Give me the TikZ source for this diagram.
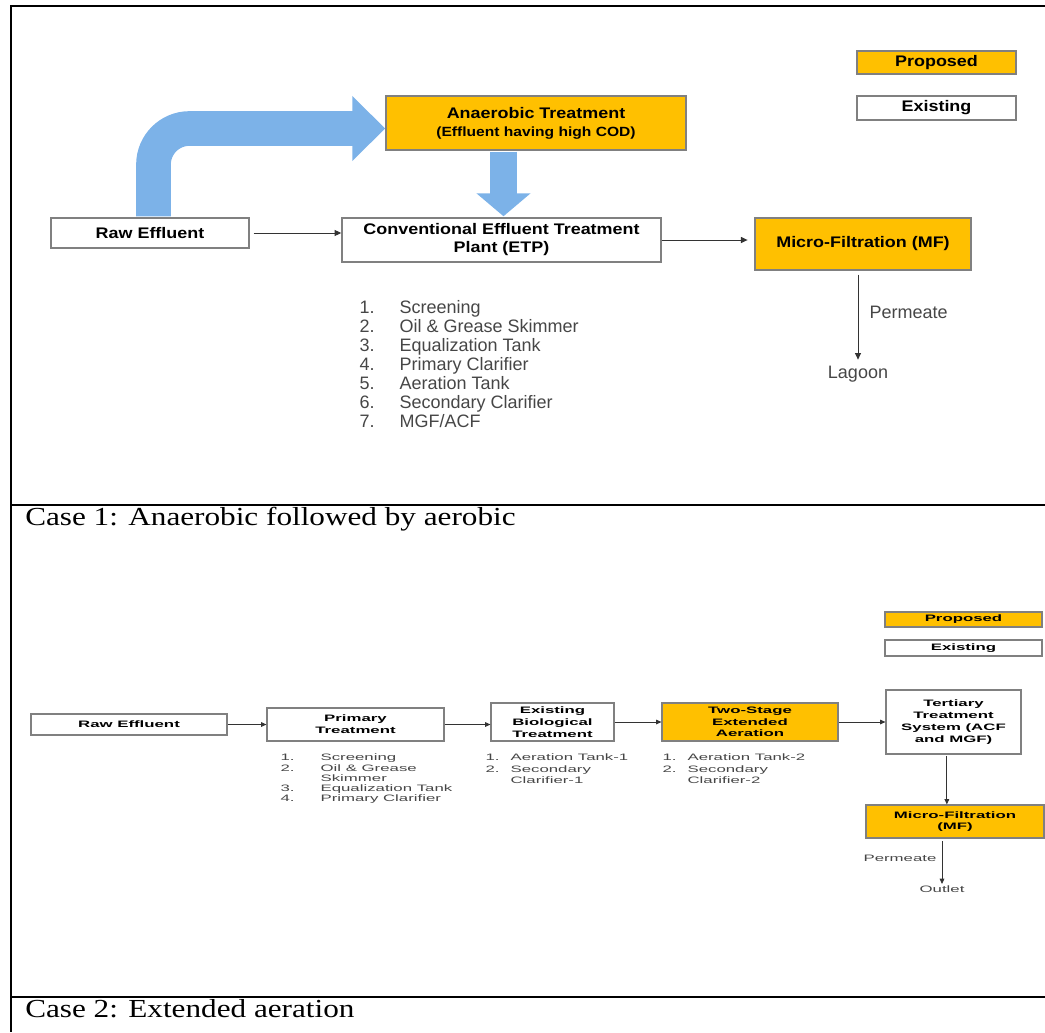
\documentclass[tikz,border=0pt]{standalone}
\usepackage{fontspec}
\setmainfont{Liberation Sans}
\newfontfamily\sansone[FakeStretch=1.17]{Liberation Sans}
\newfontfamily\sanstwo[FakeStretch=1.8]{Liberation Sans}
\newfontfamily\capserif[FakeStretch=1.2]{Liberation Serif}
\usetikzlibrary{arrows.meta,calc}

\definecolor{propgold}{RGB}{255,192,0}
\definecolor{flowblue}{RGB}{124,178,232}
\definecolor{boxgray}{RGB}{128,128,128}
\definecolor{listgray}{RGB}{70,70,70}

\tikzset{
  unit/.style={draw=boxgray, line width=1.1pt, fill=white, inner sep=0pt, align=center},
  existone/.style={unit, font=\sansone\bfseries\fontsize{11.5}{13.5}\selectfont},
  propone/.style={existone, fill=propgold},
  existtwo/.style={unit, line width=0.9pt, font=\sanstwo\bfseries\fontsize{7}{8.8}\selectfont},
  proptwo/.style={existtwo, fill=propgold},
  noteone/.style={inner sep=1pt, text=listgray, font=\fontsize{13.5}{14.25}\selectfont},
  notetwo/.style={inner sep=1pt, text=listgray, font=\sanstwo\fontsize{7}{8.6}\selectfont},
  lineone/.style={draw=black!80, line width=0.75pt, -{Triangle[length=5pt,width=4.5pt]}},
  linetwo/.style={draw=black!80, line width=0.6pt, -{Triangle[length=4pt,width=3.5pt]}},
  bigflow/.style={draw=flowblue, line width=26pt, -{Triangle[length=24.75pt,width=47.25pt]}},
  rule/.style={line width=1.5pt},
  caption/.style={anchor=base west, inner sep=0pt, font=\capserif\fontsize{19.5}{23}\selectfont},
}

\begin{document}
\begin{tikzpicture}[x=0.75pt,y=0.75pt,yscale=-1,xscale=1]
\useasboundingbox (0,0) rectangle (1045,1032);

% table frame
\draw[rule] (1045,6) -- (11,6) -- (11,1032);
\draw[rule] (11,505) -- (1045,505);
\draw[rule] (11,997) -- (1045,997);

%% Case 1
\node[existone, minimum width=148.5pt, minimum height=22.5pt] (raw1) at (150,233) {Raw Effluent};
\node[existone, minimum width=239.25pt, minimum height=33pt] (etp1) at (501.5,240) {Conventional Effluent Treatment\\Plant (ETP)};
\node[propone, minimum width=225pt, minimum height=40.5pt] (anaer) at (536,123) {Anaerobic Treatment\\{\fontsize{10}{13.5}\selectfont (Effluent having high COD)}};
\node[propone, minimum width=162pt, minimum height=39pt] (mf1) at (863,244) {Micro-Filtration (MF)};
\node[propone, minimum width=119.25pt, minimum height=17.25pt] (prop1) at (936.5,62.5) {Proposed};
\node[existone, minimum width=119.25pt, minimum height=18pt] (exist1) at (936.5,108) {Existing};

% blue flows
\draw[bigflow, rounded corners=27pt] ($(raw1.north)+(3.5,-1)$) |- ($(anaer.west)+(0,5.5)$);
\draw[bigflow, line width=20.25pt, -{Triangle[length=17.25pt,width=39.75pt]}] ($(etp1.north |- anaer.south)+(2,1)$) -- ($(etp1.north)+(2,-1)$);

\draw[lineone, shorten <=3pt] (raw1.east) -- (raw1.east -| etp1.west);
\draw[lineone, shorten >=5pt] (etp1.east) -- (etp1.east -| mf1.west);

\node[noteone, anchor=north] (lagoon) at (858,365) {Lagoon};
\node[noteone, anchor=west] (perm1) at (868,312) {Permeate};
\draw[lineone, shorten <=3pt, shorten >=4pt] (mf1.south -| lagoon.north) -- (lagoon.north);

\node[noteone, anchor=north west] (steps1) at (358,299) {\begin{tabular}{@{}p{30pt}@{}l@{}}
1.&Screening\\
2.&Oil \& Grease Skimmer\\
3.&Equalization Tank\\
4.&Primary Clarifier\\
5.&Aeration Tank\\
6.&Secondary Clarifier\\
7.&MGF/ACF
\end{tabular}};

\node[caption] (cap1) at (25,525) {Case 1: Anaerobic followed by aerobic};

%% Case 2
\node[proptwo, minimum width=117.75pt, minimum height=11.25pt] (prop2) at (963.5,619.5) {Proposed};
\node[existtwo, minimum width=117.75pt, minimum height=12pt] (exist2) at (963.5,648) {Existing};

\node[existtwo, minimum width=147pt, minimum height=15.75pt] (raw2) at (129,724.5) {Raw Effluent};
\node[existtwo, minimum width=132.75pt, minimum height=24.75pt] (prim2) at (355.5,724.5) {Primary\\Treatment};
\node[existtwo, minimum width=92.25pt, minimum height=28.5pt] (bio2) at (552.5,722) {Existing\\Biological\\Treatment};
\node[proptwo, minimum width=132pt, minimum height=28.5pt] (ext2) at (750,722) {Two-Stage\\Extended\\Aeration};
\node[existtwo, minimum width=101.25pt, minimum height=48pt] (tert2) at (953.5,722) {Tertiary\\Treatment\\System (ACF\\and MGF)};
\node[proptwo, minimum width=133.5pt, minimum height=24.75pt] (mf2) at (955,821.5) {Micro-Filtration\\(MF)};

\draw[linetwo] (raw2.east) -- (prim2.west);
\draw[linetwo] (prim2.east) -- (prim2.east -| bio2.west);
\draw[linetwo] (bio2.east) -- (ext2.west);
\draw[linetwo] (ext2.east) -- (tert2.west);
\draw[linetwo, shorten <=1pt] ([xshift=-5pt]tert2.south) -- ([xshift=-5pt]tert2.south |- mf2.north);

\node[notetwo, anchor=north] (outlet) at (942,884) {Outlet};
\node[notetwo, anchor=east] (perm2) at (938,858) {Permeate};
\draw[linetwo, shorten <=2pt] (mf2.south -| outlet.north) -- (outlet.north);

\node[notetwo, anchor=north west] (steps2) at (279,752) {\fontsize{7}{7.7}\selectfont\begin{tabular}{@{}p{30pt}@{}l@{}}
1.&Screening\\
2.&Oil \& Grease\\
&Skimmer\\
3.&Equalization Tank\\
4.&Primary Clarifier
\end{tabular}};
\node[notetwo, anchor=north west] (steps3) at (484,751) {\begin{tabular}{@{}p{18.75pt}@{}l@{}}
1.&Aeration Tank-1\\
2.&Secondary\\
&Clarifier-1
\end{tabular}};
\node[notetwo, anchor=north west] (steps4) at (661,751) {\begin{tabular}{@{}p{18.75pt}@{}l@{}}
1.&Aeration Tank-2\\
2.&Secondary\\
&Clarifier-2
\end{tabular}};

\node[caption] (cap2) at (25,1017) {Case 2: Extended aeration};

\end{tikzpicture}
\end{document}
